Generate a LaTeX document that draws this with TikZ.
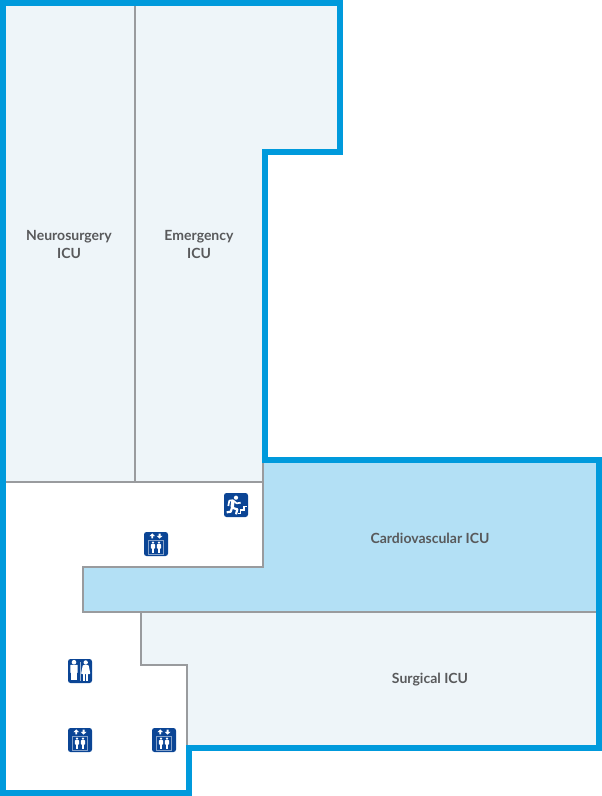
\documentclass[tikz,border=0pt]{standalone}
\usepackage{fontspec}
\setmainfont{Lato}
\definecolor{outlineblue}{HTML}{009ADC}
\definecolor{roomlight}{HTML}{EEF5F9}
\definecolor{roomblue}{HTML}{B3E0F5}
\definecolor{wallgray}{HTML}{999B9E}
\definecolor{iconblue}{HTML}{0B4595}
\definecolor{labelgray}{HTML}{58595B}
\tikzset{
	roomlabel/.style={align=center, text=labelgray, inner sep=0pt, font=\fontsize{14}{18}\selectfont\bfseries},
	wall/.style={line width=2.2, color=wallgray},
	outline/.style={line width=6, color=outlineblue, miter limit=10},
	iconbase/.pic={\fill[iconblue, rounded corners=2.5] (-12,-12) rectangle (12,12);},
	person/.pic={
		\fill[white] (0,-5.6) circle (1.5);
		\fill[white, rounded corners=0.6] (-2.4,-3.9) rectangle (2.4,1.4);
		\fill[white] (-1.7,0) rectangle (-0.1,6);
		\fill[white] (0.1,0) rectangle (1.7,6);
	},
	lifticon/.pic={
		\pic at (0,0) {iconbase};
		\fill[white] (-3.8,-10.6) -- (-0.9,-7.8) -- (-2.9,-7.8) -- (-2.9,-5.6) -- (-4.7,-5.6) -- (-4.7,-7.8) -- (-6.7,-7.8) -- cycle;
		\fill[white] (3.6,-5.4) -- (0.7,-8.2) -- (2.7,-8.2) -- (2.7,-10.4) -- (4.5,-10.4) -- (4.5,-8.2) -- (6.5,-8.2) -- cycle;
		\draw[white!50!iconblue, line width=0.9] (-7.2,-4) rectangle (7.2,10);
		\pic[scale=0.85] at (-3,3.4) {person};
		\pic[scale=0.85] at (3,3.4) {person};
	},
	toileticon/.pic={
		\pic at (0,0) {iconbase};
		\fill[white!60!iconblue] (-0.5,-9.5) rectangle (0.3,9.5);
		\pic[scale=1.55] at (-6,-0.1) {person};
		\fill[white] (5.7,-8.5) circle (2.2);
		\fill[white, rounded corners=0.8] (2.8,-6) -- (8.6,-6) -- (10.4,3) -- (1,3) -- cycle;
		\fill[white] (3.4,2) rectangle (5.3,9.5);
		\fill[white] (6.1,2) rectangle (8,9.5);
	},
	runicon/.pic={
		\pic at (0,0) {iconbase};
		\fill[white] (0,-7.3) circle (2.1);
		\draw[white, line width=3.4, line join=round] (-3.1,-4.4) -- (-3.8,2.5);
		\draw[white, line width=1.7, line join=round] (-7.7,1) -- (-6.7,-4.3) -- (-3.3,-4.8) -- (0.7,-1.7) -- (4.7,-2.3);
		\draw[white, line width=2.2, line join=round] (-9.3,7.3) -- (-5.3,6.7) -- (-4,2.7) -- (1.3,4.3) -- (0,9.3);
		\draw[white, line width=1.3] (2,8.3) -- (4.7,8.3) -- (4.7,5) -- (8,5) -- (8,1.7) -- (11,1.7);
	},
}
\begin{document}
\begin{tikzpicture}[x=1pt, y=-1pt]
	%%%%% START %%%%%
	\useasboundingbox (0,0) rectangle (602,796);
	
	% rooms
	\fill[roomlight] (3,3) -- (340,3) -- (340,152) -- (263,152) -- (263,482) -- (3,482) -- cycle;
	\fill[roomblue] (83,567) -- (263,567) -- (263,460) -- (599,460) -- (599,612) -- (83,612) -- cycle;
	\fill[roomlight] (141,612) -- (599,612) -- (599,748) -- (187,748) -- (187,665) -- (141,665) -- cycle;
	
	% inner walls
	\draw[wall] (135,3) -- (135,482);
	\draw[wall] (3,482) -- (263,482);
	\draw[wall] (263,460) -- (263,567) -- (83,567) -- (83,612) -- (599,612);
	\draw[wall] (141,612) -- (141,665) -- (187,665) -- (187,748);
	
	% outer wall
	\draw[outline] (3,3) -- (340,3) -- (340,152) -- (265,152) -- (265,460) -- (599,460)
		-- (599,748) -- (189,748) -- (189,793) -- (3,793) -- cycle;
	
	% labels
	\node[roomlabel] (neuro) at (69,244) {Neurosurgery\\ICU};
	\node[roomlabel] (emergency) at (199,244) {Emergency\\ICU};
	\node[roomlabel, anchor=base] (cardio) at (430,543) {Cardiovascular ICU};
	\node[roomlabel, anchor=base] (surgical) at (430,683) {Surgical ICU};
	
	% icons
	\pic at (236,505) {runicon};
	\pic at (156,544) {lifticon};
	\pic at (80,671) {toileticon};
	\pic at (80,740) {lifticon};
	\pic at (164,740) {lifticon};
	%%%%% END %%%%%
\end{tikzpicture}
\end{document}
